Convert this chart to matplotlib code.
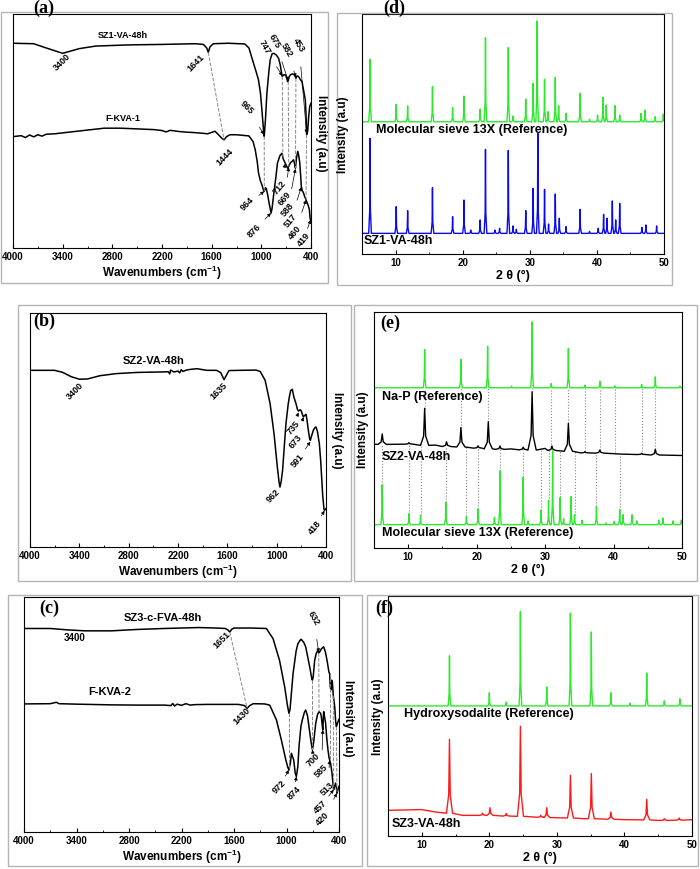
import numpy as np
from matplotlib import pyplot as plt
from matplotlib.patches import Rectangle

plt.rcParams['font.family'] = ['Liberation Sans', 'DejaVu Sans']
plt.rcParams['font.weight'] = 'bold'
plt.rcParams['axes.labelweight'] = 'bold'
plt.rcParams['mathtext.fontset'] = 'custom'
plt.rcParams['mathtext.rm'] = 'Liberation Sans:bold'
plt.rcParams['mathtext.it'] = 'Liberation Sans:bold'
plt.rcParams['mathtext.bf'] = 'Liberation Sans:bold'

# ---------------- FTIR spectra, (wavenumber, relative intensity) ----------------
a_sz1 = np.array([
    (4000, 87.5), (3750, 87.3), (3600, 85.5), (3400, 83.2), (3200, 85.2), (3000, 86.3),
    (2600, 86.8), (2200, 87.0), (1800, 87.3), (1700, 87.0), (1660, 85.5), (1641, 83.6),
    (1620, 86.0), (1580, 87.3), (1400, 87.5), (1200, 87.2), (1150, 85.5), (1094, 78.9),
    (1060, 75.0), (1034, 71.8), (1010, 66.0), (993, 59.0), (975, 51.0), (965, 47.7),
    (950, 55.0), (933, 66.1), (910, 75.0), (893, 80.4), (870, 83.0), (850, 83.2),
    (820, 82.5), (792, 81.1), (770, 78.0), (755, 74.5), (747, 73.3), (730, 74.0),
    (711, 74.0), (695, 73.0), (683, 71.1), (675, 71.5), (665, 73.0), (650, 74.0),
    (625, 74.4), (600, 74.0), (582, 72.5), (570, 73.5), (550, 73.3), (530, 72.0),
    (509, 71.1), (490, 67.5), (469, 63.3), (460, 57.0), (453, 48.4), (440, 50.0),
    (428, 56.2), (415, 60.5), (400, 61.9)])
a_fkva1 = np.array([
    (4000, 47.6), (3900, 48.0), (3850, 47.2), (3800, 48.3), (3750, 47.5), (3700, 48.4),
    (3650, 47.8), (3600, 48.6), (3500, 48.8), (3300, 49.6), (3100, 50.4), (2900, 51.2),
    (2700, 51.2), (2500, 50.9), (2300, 50.6), (2200, 50.2), (2150, 49.6), (2100, 50.3),
    (2000, 49.8), (1900, 49.5), (1800, 49.3), (1700, 49.0), (1650, 48.8), (1600, 49.4),
    (1560, 49.9), (1520, 48.5), (1480, 47.0), (1450, 46.2), (1420, 47.6), (1380, 48.4),
    (1300, 48.4), (1150, 47.9), (1100, 45.5), (1074, 42.0), (1050, 37.0), (1034, 32.0),
    (1010, 28.5), (993, 27.0), (975, 24.8), (964, 24.2), (950, 25.8), (940, 25.4),
    (925, 23.0), (905, 19.0), (882, 14.9), (870, 17.0), (844, 24.9), (825, 30.0),
    (805, 36.3), (775, 39.5), (751, 40.5), (735, 38.0), (712, 36.3), (695, 35.0),
    (683, 34.1), (669, 34.9), (650, 36.3), (630, 37.0), (610, 37.7), (595, 35.5),
    (588, 34.1), (575, 38.5), (560, 41.3), (548, 39.5), (536, 36.5), (525, 31.0),
    (517, 26.3), (505, 24.5), (490, 23.5), (477, 22.0), (460, 20.6), (449, 19.5),
    (435, 18.3), (420, 16.5), (410, 12.5), (400, 11.4)])
b_sz2 = np.array([
    (4000, 75.5), (3700, 75.5), (3600, 74.6), (3500, 72.8), (3400, 71.7), (3300, 71.8),
    (3150, 73.2), (2950, 74.1), (2700, 74.6), (2400, 74.8), (2320, 74.9), (2300, 74.0),
    (2290, 75.6), (2250, 74.8), (2200, 75.2), (2180, 74.4), (2160, 75.8), (2140, 75.0),
    (2100, 75.6), (2050, 75.9), (1970, 76.2), (1850, 75.5), (1730, 75.5), (1680, 74.5),
    (1640, 71.5), (1610, 73.5), (1580, 75.4), (1450, 75.5), (1250, 75.6), (1200, 75.0),
    (1140, 71.2), (1080, 61.3), (1032, 48.4), (992, 34.2), (970, 27.5), (960, 25.6),
    (945, 28.0), (928, 32.8), (905, 44.0), (887, 52.7), (860, 61.0), (846, 64.1),
    (830, 66.8), (810, 67.4), (790, 64.0), (765, 61.3), (747, 58.8), (735, 58.1),
    (715, 58.6), (704, 58.4), (690, 57.0), (676, 55.6), (660, 56.2), (643, 56.7),
    (630, 54.0), (615, 49.9), (600, 46.5), (591, 45.6), (575, 47.5), (554, 49.9),
    (535, 51.0), (522, 51.3), (505, 49.5), (481, 44.2), (465, 37.0), (453, 29.9),
    (440, 22.0), (424, 16.0), (418, 15.7), (410, 16.0), (400, 16.4)])
c_sz3 = np.array([
    (4000, 86.6), (3700, 86.6), (3500, 86.0), (3300, 85.6), (3000, 85.6), (2700, 86.2),
    (2400, 86.6), (2000, 87.0), (1800, 86.8), (1700, 86.6), (1670, 86.0), (1648, 85.1),
    (1625, 86.3), (1600, 86.8), (1400, 86.8), (1230, 86.6), (1154, 82.3), (1080, 73.1),
    (1021, 61.8), (990, 54.0), (972, 50.5), (960, 52.0), (925, 67.5), (890, 77.0),
    (869, 80.2), (840, 81.8), (831, 82.0), (800, 80.5), (781, 78.8), (760, 75.0),
    (735, 70.3), (712, 65.5), (704, 64.6), (695, 66.0), (678, 73.1), (660, 76.0),
    (640, 77.4), (632, 76.2), (620, 76.7), (600, 78.0), (575, 78.8), (555, 76.5),
    (537, 73.1), (515, 68.0), (507, 67.5), (500, 62.0), (493, 60.4), (485, 64.6),
    (476, 64.0), (465, 58.0), (449, 53.3), (438, 47.0), (430, 44.8), (420, 46.0),
    (410, 47.0), (400, 48.0)])
c_fkva2 = np.array([
    (4000, 54.5), (3700, 54.6), (3630, 55.2), (3600, 54.6), (3400, 54.4), (3000, 54.1),
    (2700, 54.0), (2400, 54.0), (2320, 53.8), (2300, 54.7), (2280, 53.6), (2250, 54.4),
    (2200, 53.9), (2150, 54.6), (2100, 54.0), (2050, 54.2), (1900, 54.3), (1700, 54.3),
    (1550, 54.3), (1480, 53.8), (1450, 52.6), (1420, 53.8), (1380, 54.6), (1250, 54.5),
    (1192, 54.0), (1115, 47.7), (1059, 39.2), (1008, 30.7), (985, 27.5), (972, 26.4),
    (955, 29.5), (944, 33.5), (930, 32.0), (918, 30.7), (900, 25.0), (887, 23.6),
    (870, 28.0), (857, 36.4), (835, 45.0), (819, 47.7), (795, 51.0), (781, 51.9),
    (760, 49.5), (743, 44.8), (720, 38.5), (704, 35.0), (690, 38.0), (666, 46.3),
    (645, 50.0), (628, 51.2), (610, 50.5), (602, 49.1), (590, 44.8), (585, 43.5),
    (580, 48.0), (575, 51.2), (565, 49.0), (553, 46.3), (540, 40.0), (526, 34.9),
    (513, 31.5), (507, 30.7), (495, 29.0), (480, 25.0), (470, 21.0), (461, 18.0),
    (450, 19.5), (439, 20.8), (430, 19.0), (423, 16.5), (412, 18.0), (400, 19.4)])

# ---------------- XRD patterns: peak 2-theta, peak top, baseline ----------------
d_13x_pos = [6.2, 10.1, 11.8, 15.5, 18.5, 20.2, 22.6, 23.4, 26.8, 27.5, 29.4, 30.5, 31.1, 32.2,
             32.7, 33.8, 34.3, 35.4, 37.5, 38.9, 40.1, 40.9, 41.4, 42.7, 43.4, 46.6, 47.2, 48.7, 49.9]
d_13x_top = [81.1, 62.4, 61.7, 69.7, 61.0, 65.8, 60.4, 90.1, 86.0, 57.5, 64.6, 71.1, 97.1, 72.8,
             59.3, 73.6, 61.8, 58.6, 66.9, 56.2, 57.9, 65.3, 62.1, 61.8, 57.9, 58.6, 60.0, 57.2, 58.3]
d_13x_base = 55.1
d_sz1_pos = [6.2, 10.1, 11.8, 15.5, 18.5, 20.2, 21.2, 22.6, 23.4, 24.8, 25.5, 26.8, 27.5, 28.0,
             29.4, 30.5, 31.2, 32.2, 32.8, 33.8, 34.4, 35.4, 37.5, 38.9, 40.2, 41.0, 41.5, 42.3,
             42.8, 43.4, 46.7, 47.3, 48.9]
d_sz1_top = [48.2, 19.7, 18.1, 27.6, 15.6, 22.5, 10.0, 14.2, 43.6, 10.0, 10.7, 43.1, 11.7, 10.3,
             18.1, 27.4, 50.3, 26.9, 12.5, 25.0, 14.9, 11.4, 18.6, 9.4, 10.7, 16.5, 14.9, 22.1,
             14.2, 21.1, 11.1, 12.1, 11.7]
d_sz1_base = 8.6

e_nap_pos = [12.4, 17.7, 21.6, 25.1, 28.1, 30.9, 33.4, 35.8, 38.0, 40.2, 44.1, 46.1, 49.7]
e_nap_top = [84.1, 80.0, 85.5, 68.6, 95.8, 69.7, 84.5, 69.0, 70.7, 68.7, 69.3, 72.5, 68.6]
e_nap_base = 67.9
e_sz2_pos = [6.2, 10.1, 12.4, 15.6, 17.7, 20.2, 21.7, 23.4, 26.8, 28.1, 31.0, 33.4, 35.8, 38.0, 44.1, 46.1]
e_sz2_top = [48.3, 44.6, 59.2, 45.0, 51.0, 43.3, 53.5, 43.2, 42.7, 66.2, 43.2, 52.8, 40.8, 41.5, 40.1, 41.8]
e_sz2_base = [43.9, 44.0, 43.5, 43.0, 42.8, 42.3, 42.0, 41.8, 41.6, 41.5, 41.3, 41.0, 40.3, 40.2, 39.6, 39.4]
e_sz2_floor = [(5, 44.0), (14.0, 43.6), (25.0, 42.0), (30.0, 42.2), (41.0, 39.8), (50, 39.2)]
e_13x_pos = d_13x_pos
e_13x_top = [26.8, 14.5, 13.8, 19.3, 13.4, 16.6, 13.0, 32.7, 30.0, 11.5, 15.9, 20.0, 41.1, 21.5,
             12.4, 21.8, 14.1, 11.8, 17.6, 10.6, 11.3, 16.2, 14.1, 14.1, 11.5, 11.8, 12.7, 11.5, 11.8]
e_13x_base = 9.9
# dotted guide lines (2-theta, lower end, upper end)
e_link_hi_pos = [12.4, 17.7, 21.6, 28.1, 30.9, 33.4, 35.8, 38.0, 40.2, 44.1, 46.1]
e_link_hi_low = [59.0, 51.0, 53.5, 66.0, 43.0, 53.0, 41.0, 41.5, 40.5, 40.0, 42.0]
e_link_lo_pos = [6.2, 10.1, 11.8, 15.5, 18.5, 20.2, 23.4, 26.8, 29.4, 30.5, 32.2, 34.3, 37.5, 41.0]
e_link_lo_low = [26.8, 14.5, 13.8, 19.3, 13.4, 16.6, 32.7, 30.0, 15.9, 20.0, 21.5, 14.1, 17.6, 16.2]
e_link_lo_high = [43.5, 43.6, 43.6, 43.0, 42.6, 42.3, 41.8, 41.6, 41.7, 41.8, 41.5, 41.0, 40.3, 39.8]

f_hs_pos = [14.1, 20.0, 22.5, 24.6, 28.5, 32.0, 35.1, 38.0, 40.8, 43.3, 45.9, 48.2]
f_hs_top = [75.1, 59.7, 55.8, 93.6, 62.1, 92.8, 85.0, 59.7, 55.4, 67.9, 56.3, 57.2]
f_hs_base = 54.2
f_sz3_pos = [14.1, 19.0, 20.1, 22.5, 24.6, 27.6, 28.5, 32.0, 35.1, 38.0, 43.3, 45.9, 48.1]
f_sz3_top = [40.3, 9.5, 11.8, 9.4, 45.7, 8.6, 11.8, 25.3, 26.0, 10.0, 15.3, 7.2, 7.5]
f_sz3_base = [9.5, 8.6, 8.6, 8.3, 8.2, 7.8, 7.7, 7.5, 7.2, 7.0, 6.7, 6.5, 6.6]
f_sz3_floor = [(5, 10.7), (10, 11.0), (12, 10.0), (16, 8.6), (23, 8.3), (30, 7.6),
               (34, 7.2), (40, 6.8), (45, 6.5), (50, 6.8)]

GREEN = '#2ee82e'
BLUE = '#0a0aee'
RED = '#ff1a1a'
W, H = 700, 869


def frac(x0, y0, x1, y1):
    # pixel box -> figure fraction rect
    return [x0 / W, 1 - y1 / H, (x1 - x0) / W, (y1 - y0) / H]


def ir_axes(fig, rect):
    ax = fig.add_axes(rect)
    ax.set_xlim(4000, 400)
    ax.set_ylim(0, 100)
    ax.set_xticks(range(4000, 399, -600))
    ax.set_xticks(range(3700, 400, -600), minor=True)
    ax.set_yticks([])
    ax.tick_params(axis='x', which='both', direction='in', labelsize=7, pad=3)
    ax.tick_params(axis='x', which='minor', length=1.5)
    ax.tick_params(axis='x', which='major', length=3)
    ax.set_xlabel('Wavenumbers (cm$^{-1}$)', fontsize=8.5, labelpad=1)
    return ax


def xrd_axes(fig, rect):
    ax = fig.add_axes(rect)
    ax.set_xlim(5, 50)
    ax.set_ylim(0, 100)
    ax.set_xticks([10, 20, 30, 40, 50])
    ax.set_xticks([15, 25, 35, 45], minor=True)
    ax.set_yticks([])
    ax.tick_params(axis='x', which='both', direction='in', labelsize=7, pad=3)
    ax.tick_params(axis='x', which='minor', length=1.5)
    ax.tick_params(axis='x', which='major', length=3)
    ax.set_xlabel('2 θ (°)', fontsize=9, labelpad=1)
    return ax


def xrd_line(ax, pos, top, base, hw, color, floor=None):
    # each peak drawn as a narrow spike standing on its baseline
    dx = np.array([-1.0, -0.25, 0.0, 0.25, 1.0]) * hw
    fr = np.array([0.0, 0.25, 1.0, 0.25, 0.0])
    bases = np.broadcast_to(np.asarray(base, float), (len(pos),))
    xs = np.concatenate([p + dx for p in pos])
    ys = np.concatenate([b + (t - b) * fr for t, b in zip(top, bases)])
    if floor is None:
        floor = [(5, float(base)), (50, float(base))]
    fl = [(x, y) for x, y in floor if all(abs(x - p) > hw for p in pos)]
    xs = np.concatenate([xs, [f[0] for f in fl]])
    ys = np.concatenate([ys, [f[1] for f in fl]])
    order = np.argsort(xs, kind='stable')
    ax.plot(xs[order], ys[order], color=color, lw=1.0)


def tag(ax, txt, xy, xytext, rot, arrow=True, size=6.5):
    props = None
    if arrow:
        props = dict(arrowstyle='-|>', lw=0.5, color='k', mutation_scale=5,
                     shrinkA=7, shrinkB=0)
    if xy is None:
        xy = xytext
    ax.annotate(txt, xy=xy, xytext=xytext, fontsize=size, rotation=rot,
                rotation_mode='anchor', ha='center', va='center', arrowprops=props)


def dash(ax, p, q):
    ax.plot([p[0], q[0]], [p[1], q[1]], ls='--', color='#888888', lw=0.7)


fig = plt.figure(figsize=(7, 8.69), dpi=100)

# grey frames around each panel
for box in [(1, 12, 328, 283), (337, 13, 672, 285), (18, 305, 351, 581),
            (354, 305, 697, 581), (8, 595, 362, 866), (367, 595, 698, 866)]:
    fig.add_artist(Rectangle((box[0] / W, 1 - box[3] / H), (box[2] - box[0]) / W,
                             (box[3] - box[1]) / H, transform=fig.transFigure,
                             fill=False, ec='#b4b4b4', lw=1.0))

# ---- (a) ----
ax = ir_axes(fig, frac(13, 14, 311, 248))
ax.plot(a_sz1[:, 0], a_sz1[:, 1], color='k', lw=1.1)
ax.plot(a_fkva1[:, 0], a_fkva1[:, 1], color='k', lw=1.1)
ax.text(2668, 90.8, 'SZ1-VA-48h', fontsize=6.5, ha='center', va='center')
ax.text(2668, 55.5, 'F-KVA-1', fontsize=6.5, ha='center', va='center')
tag(ax, '3400', None, (3403, 79.5), 45, arrow=False)
tag(ax, '1641', None, (1790, 79.0), 45, arrow=False)
tag(ax, '1444', None, (1440, 39.0), 45, arrow=False)
dash(ax, (1641, 83.6), (1450, 46.2))
dash(ax, (965, 47.7), (964, 24.2))
dash(ax, (747, 73.3), (740, 38.5))
dash(ax, (675, 71.1), (669, 34.9))
dash(ax, (582, 72.5), (588, 34.1))
dash(ax, (453, 48.4), (460, 20.6))
tag(ax, '965', (968, 48.5), (1170, 60.0), -45)
tag(ax, '747', (747, 73.5), (960, 86.0), -60)
tag(ax, '675', (675, 71.5), (835, 88.5), -60)
tag(ax, '582', (582, 73.0), (690, 84.5), -60)
tag(ax, '453', (453, 49.0), (545, 86.5), -60)
tag(ax, '964', (966, 24.2), (1165, 18.8), 45)
tag(ax, '876', (884, 14.9), (1090, 7.5), 45)
tag(ax, '712', (712, 36.0), (780, 25.8), 50)
tag(ax, '669', (669, 34.5), (720, 21.2), 50)
tag(ax, '588', (588, 33.8), (682, 16.4), 50)
tag(ax, '517', (517, 26.0), (650, 11.6), 50)
tag(ax, '460', (460, 20.5), (598, 6.4), 50)
tag(ax, '419', (405, 12.0), (490, 3.4), 50)

# ---- (b) ----
ax = ir_axes(fig, frac(30, 313, 326, 547))
ax.plot(b_sz2[:, 0], b_sz2[:, 1], color='k', lw=1.1)
ax.text(2500, 79.5, 'SZ2-VA-48h', fontsize=8, ha='center', va='center')
tag(ax, '3400', None, (3450, 66.5), 45, arrow=False)
tag(ax, '1635', None, (1710, 66.5), 45, arrow=False)
tag(ax, '962', None, (1045, 22.0), 45, arrow=False)
tag(ax, '735', (735, 57.5), (800, 51.0), 50)
tag(ax, '673', (673, 55.5), (770, 45.0), 50)
tag(ax, '591', (591, 45.0), (745, 37.0), 50)
tag(ax, '418', (418, 15.5), (540, 8.5), 50)

# ---- (c) ----
ax = ir_axes(fig, frac(24, 597, 339, 832))
ax.plot(c_sz3[:, 0], c_sz3[:, 1], color='k', lw=1.1)
ax.plot(c_fkva2[:, 0], c_fkva2[:, 1], color='k', lw=1.1)
ax.text(2410, 91.2, 'SZ3-c-FVA-48h', fontsize=8, ha='center', va='center')
ax.text(3020, 59.4, 'F-KVA-2', fontsize=8, ha='center', va='center')
ax.text(3418, 82.5, '3400', fontsize=7, ha='center', va='center')
tag(ax, '1651', None, (1735, 81.5), 45, arrow=False)
tag(ax, '1430', None, (1515, 49.5), 45, arrow=False)
dash(ax, (1648, 85.1), (1450, 52.6))
dash(ax, (972, 50.5), (972, 26.4))
dash(ax, (704, 64.6), (704, 35.0))
dash(ax, (632, 76.2), (628, 51.2))
dash(ax, (507, 67.5), (507, 30.7))
dash(ax, (465, 58.0), (461, 18.0))
dash(ax, (430, 44.8), (423, 16.5))
tag(ax, '632', (632, 76.5), (690, 91.0), -60)
tag(ax, '972', (974, 26.4), (1085, 19.0), 45)
tag(ax, '874', (887, 23.6), (915, 16.5), 45)
tag(ax, '700', (704, 35.0), (690, 30.5), 45)
tag(ax, '585', (585, 43.5), (600, 26.0), 45)
tag(ax, '513', (507, 30.5), (530, 18.5), 45)
tag(ax, '457', (461, 18.0), (615, 10.5), 45)
tag(ax, '420', (423, 16.5), (585, 5.5), 45)

# ---- (d) ----
ax = xrd_axes(fig, frac(362, 14, 664, 254))
xrd_line(ax, d_13x_pos, d_13x_top, d_13x_base, 0.2, GREEN)
xrd_line(ax, d_sz1_pos, d_sz1_top, d_sz1_base, 0.2, BLUE)
ax.text(7.1, 51.5, 'Molecular sieve 13X (Reference)', fontsize=9, ha='left', va='center')
ax.text(5.3, 5.6, 'SZ1-VA-48h', fontsize=9, ha='left', va='center')

# ---- (e) ----
ax = xrd_axes(fig, frac(374, 312, 682, 548))
ax.vlines(e_link_hi_pos, e_link_hi_low, e_nap_base, colors='#888888', linestyles=':', lw=0.8)
ax.vlines(e_link_lo_pos, e_link_lo_low, e_link_lo_high, colors='#888888', linestyles=':', lw=0.8)
xrd_line(ax, e_nap_pos, e_nap_top, e_nap_base, 0.2, GREEN)
xrd_line(ax, e_sz2_pos, e_sz2_top, e_sz2_base, 0.6, 'k', floor=e_sz2_floor)
xrd_line(ax, e_13x_pos, e_13x_top, e_13x_base, 0.2, GREEN)
ax.text(6.1, 64.0, 'Na-P (Reference)', fontsize=9, ha='left', va='center')
ax.text(6.1, 38.5, 'SZ2-VA-48h', fontsize=9, ha='left', va='center')
ax.text(6.1, 6.3, 'Molecular sieve 13X (Reference)', fontsize=9, ha='left', va='center')

# ---- (f) ----
ax = xrd_axes(fig, frac(388, 596, 692, 836))
xrd_line(ax, f_hs_pos, f_hs_top, f_hs_base, 0.2, GREEN)
xrd_line(ax, f_sz3_pos, f_sz3_top, f_sz3_base, 0.45, RED, floor=f_sz3_floor)
ax.text(7.3, 51.0, 'Hydroxysodalite (Reference)', fontsize=9, ha='left', va='center')
ax.text(5.6, 5.2, 'SZ3-VA-48h', fontsize=9, ha='left', va='center')

# y labels and panel letters
for x, y, rot in [(321, 133, 270), (343, 135, 90), (337, 430, 270),
                  (363, 430, 90), (348, 718, 270), (378, 717, 90)]:
    fig.text(x / W, 1 - y / H, 'Intensity (a.u)', fontsize=8.5, rotation=rot,
             ha='center', va='center')
for x, y, s in [(44, 0, '(a)'), (394, 0, '(d)'), (44, 313, '(b)'),
                (390, 315, '(e)'), (49, 600, '(c)'), (384, 600, '(f)')]:
    fig.text(x / W, 1 - y / H, s, fontsize=13, family='Liberation Serif',
             weight='bold', ha='center', va='top')

fig.savefig('out.png', dpi=100)
